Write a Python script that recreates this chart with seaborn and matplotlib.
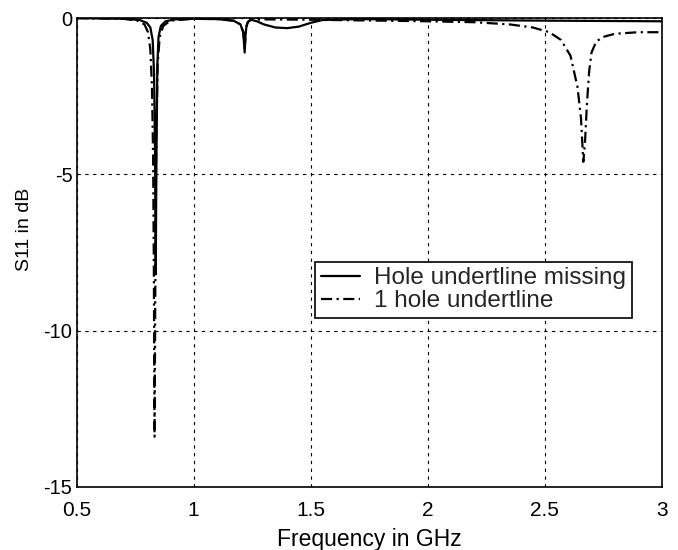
import numpy as np
import pandas as pd
import matplotlib
matplotlib.use("Agg")
import matplotlib.pyplot as plt
import seaborn as sns

# Data
freq_missing = [0.5, 0.7, 0.77, 0.80, 0.815, 0.825, 0.831, 0.835, 0.838, 0.841, 0.845, 0.85, 0.86, 0.88,
                0.92, 1.0, 1.1, 1.17, 1.20, 1.212, 1.218, 1.222, 1.226, 1.232, 1.245, 1.27, 1.30,
                1.35, 1.40, 1.45, 1.50, 1.55, 1.7, 2.0, 2.5, 3.0]
s11_missing = [0.0, -0.02, -0.06, -0.15, -0.3, -0.7, -1.8, -4.2, -8.2, -4.5, -1.5, -0.6, -0.25, -0.1,
               -0.04, -0.02, -0.03, -0.08, -0.2, -0.45, -1.1, -0.5, -0.25, -0.12, -0.05, -0.1, -0.2,
               -0.3, -0.32, -0.27, -0.15, -0.06, -0.03, -0.05, -0.08, -0.1]

freq_one = [0.5, 0.7, 0.76, 0.79, 0.805, 0.815, 0.822, 0.827, 0.830, 0.833, 0.836, 0.840, 0.846, 0.855,
            0.87, 0.9, 1.0, 1.1, 1.17, 1.20, 1.212, 1.218, 1.222, 1.226, 1.232, 1.245, 1.3, 1.5,
            1.8, 2.0, 2.2, 2.35, 2.45, 2.52, 2.57, 2.61, 2.64, 2.655, 2.665, 2.672, 2.68, 2.69,
            2.70, 2.72, 2.75, 2.8, 2.9, 3.0]
s11_one = [0.0, -0.02, -0.08, -0.2, -0.45, -1.0, -2.2, -4.5, -8.0, -13.4, -9.0, -4.0, -1.5, -0.6,
           -0.25, -0.08, -0.02, -0.03, -0.08, -0.2, -0.45, -1.0, -0.5, -0.25, -0.12, -0.05, -0.04, -0.05,
           -0.08, -0.1, -0.13, -0.2, -0.3, -0.45, -0.7, -1.2, -2.2, -3.2, -4.6, -4.0, -2.8, -1.7,
           -1.1, -0.75, -0.6, -0.5, -0.45, -0.45]

labels = ["Hole undertline missing", "1 hole undertline"]
xticks = [0.5, 1, 1.5, 2, 2.5, 3]
xticklabels = ["0.5", "1", "1.5", "2", "2.5", "3"]
yticks = [-15, -10, -5, 0]
yticklabels = ["-15", "-10", "-5", "0"]

sns.set_theme(style="white")
plt.rcParams['font.family'] = ['Liberation Sans', 'DejaVu Sans']

fig = plt.figure(figsize=(6.78, 5.5), dpi=100)
ax = fig.add_axes([0.113, 0.115, 0.863, 0.852])

df1 = pd.DataFrame({"f": freq_missing, "s": s11_missing})
df2 = pd.DataFrame({"f": freq_one, "s": s11_one})
sns.lineplot(data=df1, x="f", y="s", ax=ax, color="black", linewidth=1.6,
             linestyle="-", label=labels[0], sort=False)
sns.lineplot(data=df2, x="f", y="s", ax=ax, color="black", linewidth=1.6,
             linestyle=(0, (5, 2, 1, 2)), label=labels[1], sort=False)

ax.set_xlim(0.5, 3)
ax.set_ylim(-15, 0)
ax.set_xticks(xticks)
ax.set_xticklabels(xticklabels, fontsize=15)
ax.set_yticks(yticks)
ax.set_yticklabels(yticklabels, fontsize=14.5)
ax.tick_params(axis="x", direction="in", length=5, color="black", labelcolor="black", pad=10)
ax.tick_params(axis="y", direction="in", length=5, color="black", labelcolor="black", pad=3)
ax.grid(True, color="black", linestyle=(0, (3, 4)), linewidth=0.8)
for sp in ax.spines.values():
    sp.set_color("black")
    sp.set_linewidth(1.2)
ax.set_xlabel("Frequency in GHz", fontsize=16.5, color="black", labelpad=6)
ax.set_ylabel("S11 in dB", fontsize=14, color="black")
ax.yaxis.set_label_coords(-0.075, 0.55)

leg = ax.legend(loc="upper left", bbox_to_anchor=(0.408, 0.48), fontsize=17.5,
                frameon=True, fancybox=False, edgecolor="black", framealpha=1,
                handlelength=1.6, handletextpad=0.6, borderpad=0.22, labelspacing=0.05,
                borderaxespad=0)
leg.get_frame().set_linewidth(1.2)

fig.savefig("out.png", dpi=100)
